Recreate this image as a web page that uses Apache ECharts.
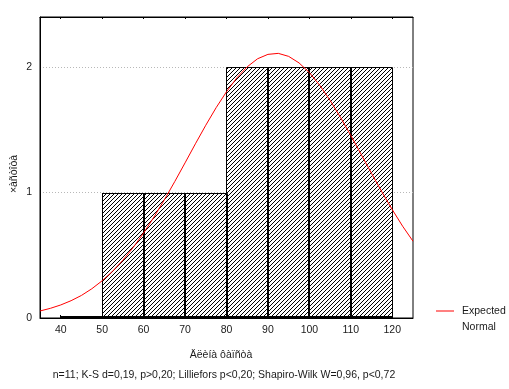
<!DOCTYPE html>
<html><head><meta charset="utf-8">
<script src="https://cdn.jsdelivr.net/npm/echarts@6/dist/echarts.min.js"></script>
<style>html,body{margin:0;padding:0;background:#fff}#c{width:509px;height:389px}</style>
</head><body><div id="c"></div>
<script>
// ---- data ----
const binLower = [40, 50, 60, 70, 80, 90, 100, 110];
const binUpper = [50, 60, 70, 80, 90, 100, 110, 120];
const binCounts = [0, 1, 1, 1, 2, 2, 2, 2];
const curveX = [35, 37.5, 40, 42.5, 45, 47.5, 50, 52.5, 55, 57.5, 60, 62.5, 65, 67.5, 70, 72.5, 75, 77.5, 80, 82.5, 85, 87.5, 90, 92.5, 95, 97.5, 100, 102.5, 105, 107.5, 110, 112.5, 115, 117.5, 120, 122.5, 125];
const curveY = [0.056, 0.077, 0.104, 0.138, 0.180, 0.233, 0.297, 0.372, 0.461, 0.563, 0.678, 0.805, 0.942, 1.087, 1.237, 1.389, 1.537, 1.677, 1.804, 1.915, 2.003, 2.067, 2.102, 2.110, 2.086, 2.034, 1.957, 1.855, 1.735, 1.600, 1.455, 1.304, 1.153, 1.005, 0.864, 0.732, 0.612];
const xTicks = [40, 50, 60, 70, 80, 90, 100, 110, 120];
const yTicks = [0, 1, 2];
const xTitle = 'Äëèíà ôàïñòà';
const yTitle = '×àñòîòà';
const statsText = 'n=11; K-S d=0,19, p>0,20; Lilliefors p<0,20; Shapiro-Wilk W=0,96, p<0,72';
const curveName = 'Expected Normal';
const legendLines = ['Expected', 'Normal'];

// ---- styling ----
const FONT = "'Liberation Sans', Arial, sans-serif";
const FS = 10.5;
const TXT = '#1a1a1a';

const tile = document.createElement('canvas');
tile.width = 4; tile.height = 4;
const g = tile.getContext('2d');
g.fillStyle = '#fff'; g.fillRect(0, 0, 4, 4);
g.fillStyle = '#000';
for (let i = 0; i < 4; i++) g.fillRect(i, 3 - i, 1, 1);
const hatch = { image: tile, repeat: 'repeat' };

const histData = binLower.map((lo, i) => [lo, binUpper[i], binCounts[i]]);
const curveData = curveX.map((x, i) => [x, curveY[i]]);

const chart = echarts.init(document.getElementById('c'), null, { renderer: 'canvas' });
chart.setOption({
  animation: false,
  backgroundColor: '#fff',
  textStyle: { fontFamily: FONT },
  grid: { left: 40, top: 17, width: 373, height: 301, show: true, borderColor: '#000', borderWidth: 1, backgroundColor: 'transparent' },
  xAxis: [{
    type: 'value', min: 35, max: 125,
    axisLine: { show: true, lineStyle: { color: '#000', width: 1 } },
    axisTick: { show: true, inside: true, length: 3, customValues: xTicks, lineStyle: { color: '#000' } },
    axisLabel: { customValues: xTicks, color: TXT, fontSize: FS, fontFamily: FONT, margin: 7 },
    splitLine: { show: false }
  }, {
    type: 'value', min: 35, max: 125, position: 'top',
    axisLine: { show: true, lineStyle: { color: '#000', width: 1 } },
    axisTick: { show: true, inside: true, length: 2, customValues: xTicks, lineStyle: { color: '#000' } },
    axisLabel: { show: false },
    splitLine: { show: false }
  }],
  yAxis: {
    type: 'value', min: 0, max: 2.4, interval: 1,
    axisLine: { show: true, lineStyle: { color: '#000' } },
    axisTick: { show: false },
    axisLabel: { color: TXT, fontSize: FS, fontFamily: FONT, margin: 8, customValues: yTicks },
    splitLine: { show: true, showMinLine: false, showMaxLine: false, lineStyle: { color: '#b8b8b8', type: [1, 2], width: 1 } }
  },
  legend: {
    data: [curveName],
    left: 431, top: 282,
    itemWidth: 18, itemHeight: 1, icon: 'rect', itemGap: 0,
    formatter: function () { return ' \n' + legendLines.join('\n'); },
    textStyle: { color: TXT, fontSize: FS, fontFamily: FONT, lineHeight: 16, padding: [0, 0, 0, 3] }
  },
  series: [{
    type: 'custom',
    name: 'hist',
    z: 2,
    data: histData,
    encode: { x: [0, 1], y: 2 },
    renderItem: function (params, api) {
      const idx = params.dataIndex;
      const lo = api.value(0), hi = api.value(1), c = api.value(2);
      const a = api.coord([lo, c]), b = api.coord([hi, 0]);
      const x0 = Math.round(a[0]), x1 = Math.round(b[0]);
      const y0 = Math.round(a[1]), y1 = Math.round(b[1]);
      const prevFilled = idx > 0 && binCounts[idx - 1] > 0;
      const children = [];
      if (c > 0) {
        children.push({ type: 'rect', z2: 0, shape: { x: x0, y: y0, width: x1 - x0, height: y1 - y0 }, style: { fill: hatch } });
        const lx = prevFilled ? x0 - 0.5 : x0 + 0.5;
        children.push({ type: 'polyline', z2: 10, shape: { points: [[lx, y1], [lx, y0 + 0.5], [x1 + 0.5, y0 + 0.5], [x1 + 0.5, y1]] },
          style: { stroke: '#000', fill: null, lineWidth: 1 } });
      }
      children.push({ type: 'rect', z2: 10, shape: { x: x0, y: y1 - 2, width: x1 - x0 + 1, height: 2 }, style: { fill: '#000' } });
      return { type: 'group', children: children };
    }
  }, {
    type: 'line',
    name: curveName,
    z: 3,
    data: curveData,
    symbol: 'none',
    smooth: false,
    clip: true,
    lineStyle: { color: '#ff0000', width: 1 },
    itemStyle: { color: '#ff0000' }
  }],
  graphic: [
    { type: 'text', x: 221, y: 355, style: { text: xTitle, font: FS + 'px ' + FONT, fill: TXT, align: 'center', verticalAlign: 'middle' } },
    { type: 'text', x: 14, y: 174, rotation: Math.PI / 2, style: { text: yTitle, font: FS + 'px ' + FONT, fill: TXT, align: 'center', verticalAlign: 'middle' } },
    { type: 'text', x: 224, y: 375, style: { text: statsText, font: FS + 'px ' + FONT, fill: TXT, align: 'center', verticalAlign: 'middle' } }
  ]
});
</script>
</body></html>
